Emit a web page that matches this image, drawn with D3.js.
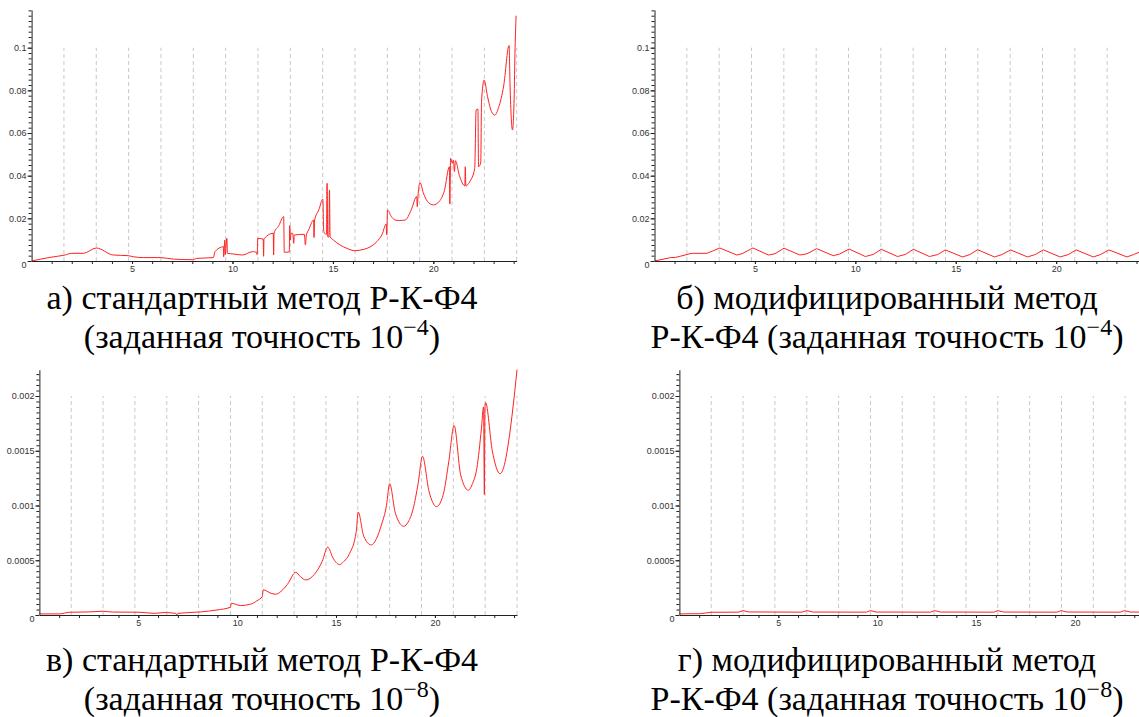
<!DOCTYPE html>
<html>
<head>
<meta charset="utf-8">
<script src="https://cdn.jsdelivr.net/npm/d3@7"></script>
<style>
  body { margin: 0; background: #fff; }
  svg { display: block; }
</style>
</head>
<body>
<svg id="chart" width="1139" height="717"></svg>
<script>
// ---- data ----
// time axis
const X_MAX = 24.15;
const xMinorTicks = d3.range(1, 25);
const xLabelTicks = [5, 10, 15, 20];
// dashed vertical markers
const gridT = [1.61, 3.22, 4.83, 6.44, 8.05, 9.66, 11.27, 12.88, 14.49, 16.1, 17.71, 19.32, 20.93, 22.54, 24.15];

// y ticks
const yTicksTop = [0, 0.02, 0.04, 0.06, 0.08, 0.1];
const yTicksBottom = [0, 0.0005, 0.001, 0.0015, 0.002];

// а) standard method, tolerance 1e-4  [t, error]
const seriesA = [
  [0, 0], [0.92, 0.0017], [1.66, 0.0028], [2.0, 0.0036], [2.58, 0.0036], [3.22, 0.0061],
  [4.07, 0.0028], [4.8, 0.0025], [5.06, 0.002], [5.56, 0.0016], [6.4, 0.0016], [7.05, 0.0009],
  [8.0, 0.0006], [8.05, 0.0006], [8.2, 0.0012], [9.05, 0.0016], [9.13, 0.0044], [9.55, 0.0067],
  [9.56, 0.002], [9.62, 0.0098], [9.64, 0.003], [9.72, 0.0106], [9.75, 0.0036], [10.04, 0.0033],
  [10.5, 0.0028], [11.0, 0.0044], [11.2, 0.004], [11.23, 0.003], [11.26, 0.0106], [11.53, 0.0103],
  [11.55, 0.0022], [11.57, 0.0104], [12.03, 0.013], [12.05, 0.0028], [12.07, 0.0131], [12.3, 0.0165],
  [12.55, 0.0208], [12.58, 0.0041], [12.83, 0.0042], [12.85, 0.0166], [12.88, 0.0098], [12.92, 0.013],
  [13.0, 0.013], [13.05, 0.0083], [13.08, 0.0122], [13.58, 0.0125], [13.63, 0.0075], [13.68, 0.0122],
  [13.79, 0.0145], [14.04, 0.0192], [14.06, 0.011], [14.09, 0.0192], [14.3, 0.024], [14.5, 0.029],
  [14.54, 0.0145], [14.58, 0.013], [14.68, 0.0125], [14.71, 0.0364], [14.74, 0.0114], [14.8, 0.0112],
  [14.83, 0.0333], [14.86, 0.0114], [15.03, 0.0098], [15.36, 0.0075], [15.7, 0.0059], [16.1, 0.0048],
  [16.4, 0.0052], [16.69, 0.0059], [17.0, 0.0075], [17.19, 0.0091], [17.45, 0.0125], [17.65, 0.0173],
  [17.68, 0.0122], [17.72, 0.0239], [17.9, 0.021], [18.1, 0.0192], [18.3, 0.019], [18.6, 0.0192],
  [18.9, 0.024], [19.17, 0.0302], [19.2, 0.0255], [19.24, 0.031], [19.34, 0.0367], [19.5, 0.032],
  [19.7, 0.028], [20.0, 0.0263], [20.3, 0.028], [20.55, 0.033], [20.8, 0.0442], [20.82, 0.0267],
  [20.86, 0.0481], [20.95, 0.0458], [21.0, 0.0473], [21.05, 0.042], [21.1, 0.047], [21.3, 0.04],
  [21.57, 0.0352], [21.59, 0.0442], [21.62, 0.0352], [21.8, 0.037], [22.06, 0.0434], [22.13, 0.0708],
  [22.22, 0.0712], [22.25, 0.0442], [22.36, 0.046], [22.4, 0.075], [22.53, 0.0848], [22.7, 0.077],
  [22.9, 0.07], [23.06, 0.0684], [23.25, 0.072], [23.5, 0.082], [23.77, 0.101], [23.82, 0.082],
  [23.94, 0.0614], [24.02, 0.0755], [24.07, 0.1], [24.12, 0.115]
];

// б) modified method, tolerance 1e-4
const seriesB = [
  [0, 0], [0.81, 0.0016], [1.06, 0.0017], [1.72, 0.0033], [1.88, 0.0036], [2.62, 0.0036], [3.25, 0.0061],
  [4.1, 0.0028], [4.36, 0.0034], [4.9, 0.0061], [5.68, 0.0028], [6.0, 0.0034], [6.45, 0.006],
  [7.24, 0.0028], [7.6, 0.0034], [8.07, 0.0058], [8.9, 0.0025], [9.2, 0.0032], [9.69, 0.0056],
  [10.5, 0.0021], [10.9, 0.0031], [11.29, 0.0055], [12.1, 0.0021], [12.5, 0.0031], [12.89, 0.0055],
  [13.69, 0.0021], [14.1, 0.003], [14.48, 0.0052], [15.34, 0.0019], [15.7, 0.003], [16.09, 0.0053],
  [16.93, 0.0019], [17.3, 0.003], [17.73, 0.0052], [18.57, 0.0019], [18.95, 0.003], [19.36, 0.0052],
  [20.2, 0.0019], [20.6, 0.003], [21.0, 0.0052], [21.85, 0.0019], [22.2, 0.003], [22.63, 0.0052],
  [23.52, 0.0019], [23.85, 0.003], [24.15, 0.0042]
];

// в) standard method, tolerance 1e-8
const seriesC = [
  [0, 0.00001], [1.0, 0.00001], [1.53, 0.000025], [2.5, 0.000028], [3.22, 0.000034], [3.7, 0.000027],
  [5.08, 0.000025], [5.8, 0.000015], [6.3, 0.000022], [6.9, 0.000015], [6.95, 0], [7.0, 0.000015],
  [8.14, 0.000028], [8.98, 0.000046], [9.66, 0.000071], [9.7, 0.000108], [10.17, 0.000086],
  [10.68, 0.000099], [11.0, 0.00013], [11.27, 0.00017], [11.32, 0.00023], [11.69, 0.0002],
  [11.95, 0.00019], [12.3, 0.00023], [12.54, 0.00028], [12.97, 0.00039], [13.2, 0.00035],
  [13.47, 0.00032], [13.9, 0.00037], [14.3, 0.00049], [14.58, 0.00062], [14.85, 0.00052],
  [15.17, 0.00046], [15.4, 0.00049], [15.68, 0.00056], [16.02, 0.00076], [16.12, 0.00094],
  [16.4, 0.00072], [16.78, 0.00064], [17.05, 0.0007], [17.29, 0.00082], [17.55, 0.001],
  [17.71, 0.0012], [18.0, 0.00093], [18.42, 0.00081], [18.65, 0.00085], [18.9, 0.00097],
  [19.15, 0.0012], [19.37, 0.00145], [19.7, 0.00113], [20.08, 0.00099], [20.42, 0.0011],
  [20.7, 0.0014], [20.97, 0.00173], [21.3, 0.00128], [21.69, 0.00114], [21.9, 0.0012],
  [22.12, 0.00134], [22.35, 0.0017], [22.46, 0.0019], [22.5, 0.0011], [22.53, 0.0019],
  [22.56, 0.00194], [22.9, 0.0015], [23.3, 0.00129], [23.55, 0.0014], [23.73, 0.00159],
  [23.95, 0.0019], [24.15, 0.00224]
];

// г) modified method, tolerance 1e-8
const seriesD = [
  [0, 0.00001], [1.08, 0.000012], [1.6, 0.000025], [3.0, 0.000026], [3.22, 0.00004], [3.5, 0.000028],
  [6.2, 0.000026], [6.45, 0.00004], [6.75, 0.000027], [9.45, 0.000026], [9.66, 0.00004], [9.95, 0.000027],
  [12.7, 0.000026], [12.9, 0.00004], [13.2, 0.000027], [15.9, 0.000026], [16.1, 0.00004], [16.4, 0.000027],
  [19.1, 0.000026], [19.3, 0.00004], [19.6, 0.000027], [22.3, 0.000026], [22.5, 0.00004], [22.8, 0.000027],
  [24.15, 0.000026]
];

// captions: first line, second line, exponent, closing
const captionA = ["а) стандартный метод Р-К-Ф4", "(заданная точность 10", "−4", ")"];
const captionB = ["б) модифицированный метод", "Р-К-Ф4 (заданная точность 10", "−4", ")"];
const captionC = ["в) стандартный метод Р-К-Ф4", "(заданная точность 10", "−8", ")"];
const captionD = ["г) модифицированный метод", "Р-К-Ф4 (заданная точность 10", "−8", ")"];

// ---- layout ----
const PANELS = [
  { series: seriesA, yTicks: yTicksTop, yMax: 0.1, yTop: 0.1177, yMinor: 0.0025,
    xRange: [31.6, 516.7], yRange: [261, 47.7], curve: d3.curveMonotoneX,
    caption: captionA, capX: 262, capY: 309 },
  { series: seriesB, yTicks: yTicksTop, yMax: 0.1, yTop: 0.1177, yMinor: 0.0025,
    xRange: [654.5, 1139.5], yRange: [261, 47.7], curve: d3.curveLinear,
    caption: captionB, capX: 887, capY: 309 },
  { series: seriesC, yTicks: yTicksBottom, yMax: 0.002, yTop: 0.00224, yMinor: 0.00005,
    xRange: [39.4, 517], yRange: [615, 396], curve: d3.curveMonotoneX,
    caption: captionC, capX: 262, capY: 671 },
  { series: seriesD, yTicks: yTicksBottom, yMax: 0.002, yTop: 0.00224, yMinor: 0.00005,
    xRange: [679.4, 1157], yRange: [615, 396], curve: d3.curveLinear,
    caption: captionD, capX: 887, capY: 671 }
];

const CAPTION_FONT = '"Liberation Serif"';

const svg = d3.select("#chart");
const fmt = d => d === 0 ? "0" : String(+d.toPrecision(3));

// captions first, in the serif face
PANELS.forEach(p => {
  const [line1, line2, sup, tail] = p.caption;
  svg.append("text")
    .attr("x", p.capX).attr("y", p.capY)
    .attr("text-anchor", "middle")
    .style("font-family", CAPTION_FONT).style("font-size", "34px")
    .text(line1);
  const t2 = svg.append("text")
    .attr("x", p.capX).attr("y", p.capY + 39)
    .attr("text-anchor", "middle")
    .style("font-family", CAPTION_FONT).style("font-size", "34px");
  t2.append("tspan").text(line2);
  t2.append("tspan").attr("dy", -13).style("font-size", "24px").text(sup);
  t2.append("tspan").attr("dy", 13).text(tail);
});

PANELS.forEach(p => {
  const x = d3.scaleLinear().domain([0, X_MAX]).range(p.xRange);
  const y = d3.scaleLinear().domain([0, p.yMax]).range(p.yRange);
  const yAx = y.copy().domain([0, p.yTop]).range([y(0), y(p.yTop)]);
  const g = svg.append("g");

  // dashed markers
  g.selectAll("line.grid")
    .data(gridT)
    .enter()
    .append("line")
    .attr("class", "grid")
    .attr("x1", d => x(d)).attr("x2", d => x(d))
    .attr("y1", y(0)).attr("y2", y(p.yMax))
    .attr("stroke", "#c8c8c8")
    .attr("stroke-dasharray", "4,3");

  // error curve
  g.append("path")
    .datum(p.series)
    .attr("fill", "none")
    .attr("stroke", "#ff2020")
    .attr("stroke-width", 1)
    .attr("d", d3.line().x(d => x(d[0])).y(d => y(d[1])).curve(p.curve));

  // x axis: minor ticks, then labelled ones
  g.append("g")
    .attr("transform", `translate(0,${y(0)})`)
    .call(d3.axisBottom(x).tickValues(xMinorTicks).tickSize(3).tickSizeOuter(0).tickFormat(""));
  g.append("g")
    .attr("transform", `translate(0,${y(0)})`)
    .call(d3.axisBottom(x).tickValues(xLabelTicks).tickSize(3).tickPadding(2).tickSizeOuter(0))
    .call(a => a.select(".domain").remove());

  // y axis
  const minor = d3.range(p.yMinor, p.yTop, p.yMinor);
  g.append("g")
    .attr("transform", `translate(${x(0)},0)`)
    .call(d3.axisLeft(yAx).tickValues(minor).tickSize(3).tickSizeOuter(0).tickFormat(""));
  g.append("g")
    .attr("transform", `translate(${x(0)},0)`)
    .call(d3.axisLeft(yAx).tickValues(p.yTicks).tickSize(4).tickPadding(1).tickFormat(fmt))
    .call(a => a.select(".domain").remove())
    .call(a => a.selectAll(".tick").filter(d => d === 0).select("text").attr("y", 4));

  g.selectAll(".domain, .tick line").attr("stroke", "#222");
  g.selectAll("g").attr("font-size", 9);
  g.selectAll(".tick text").attr("fill", "#333");
});
</script>
</body>
</html>
